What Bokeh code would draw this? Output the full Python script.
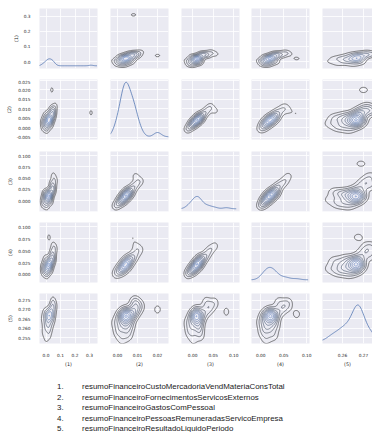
import numpy as np
from bokeh.plotting import figure
from bokeh.layouts import column, row
from bokeh.models import Range1d, FixedTicker, PrintfTickFormatter, Div, LinearAxis, Grid
from bokeh.embed import file_html
from bokeh.resources import INLINE

nan = float("nan")

var_names = [
    "resumoFinanceiroCustoMercadoriaVendMateriaConsTotal",
    "resumoFinanceiroFornecimentosServicosExternos",
    "resumoFinanceiroGastosComPessoal",
    "resumoFinanceiroPessoasRemuneradasServicoEmpresa",
    "resumoFinanceiroResultadoLiquidoPeriodo",
]
axis_labels = ["(1)", "(2)", "(3)", "(4)", "(5)"]

# observations (22 typical firms + 5 atypical ones, NaN = missing)
custo = [-0.001, 0.023, -0.019, 0.014, 0.034, -0.005, 0.018, 0.006, 0.048, -0.025, 0.027,
         0.009, 0.020, 0.041, 0.003, 0.016, 0.031, 0.055, -0.011, 0.038, 0.065, 0.045,
         0.310, 0.040, 0.020, nan, 0.050]
fornecimentos = [0.0022, 0.0055, 0.0000, 0.0046, 0.0016, 0.0067, 0.0034, -0.0011, 0.0052, 0.0029, 0.0048,
                 0.0012, 0.0040, 0.0060, 0.0023, 0.0044, 0.0035, 0.0076, 0.0042, 0.0098, 0.0115, 0.0084,
                 0.0080, 0.0200, 0.0075, nan, 0.0090]
gastos = [0.002, 0.020, -0.009, 0.015, -0.002, 0.017, 0.009, -0.013, 0.019, 0.001, 0.012,
          -0.002, 0.011, 0.021, 0.004, 0.009, 0.008, 0.028, 0.013, 0.038, 0.044, 0.032,
          nan, nan, nan, 0.082, 0.055]
pessoas = [0.012, 0.029, 0.004, 0.020, 0.010, 0.033, 0.016, 0.000, 0.027, 0.014, 0.025,
           0.007, 0.021, 0.030, 0.012, 0.023, 0.018, 0.035, 0.021, 0.046, 0.053, 0.039,
           nan, nan, 0.078, nan, 0.060]
resultado = [0.2540, 0.2560, 0.2578, 0.2592, 0.2603, 0.2612, 0.2620, 0.2630, 0.2640, 0.2648, 0.2656,
             0.2662, 0.2665, 0.2668, 0.2670, 0.2672, 0.2675, 0.2679, 0.2685, 0.2700, 0.2718, 0.2740,
             0.2685, 0.2700, 0.2675, 0.2688, 0.2735]

x_ticks = [[0.0, 0.1, 0.2, 0.3], [0.0, 0.01, 0.02], [0.0, 0.05, 0.10], [0.0, 0.05, 0.10], [0.26, 0.27]]
y_ticks = [[0.0, 0.1, 0.2, 0.3],
           [-0.005, 0.0, 0.005, 0.010, 0.015, 0.020, 0.025],
           [-0.025, 0.0, 0.025, 0.050, 0.075, 0.100],
           [0.0, 0.025, 0.050, 0.075, 0.100],
           [0.255, 0.260, 0.265, 0.270, 0.275]]
x_fmt = ["%.1f", "%.2f", "%.2f", "%.2f", "%.2f"]
y_fmt = ["%.1f", "%.3f", "%.3f", "%.3f", "%.3f"]

x_lims = [(-0.045, 0.355), (-0.0035, 0.0255), (-0.027, 0.114), (-0.02, 0.106), (0.2505, 0.2743)]
y_lims = [(-0.046, 0.352), (-0.0061, 0.0255), (-0.024, 0.109), (-0.017, 0.109), (0.2519, 0.2785)]

data = [np.array(v, dtype=float) for v in (custo, fornecimentos, gastos, pessoas, resultado)]

BG = "#EAEAF2"
FONT = "DejaVu Sans"


def bw_scott(x):
    n = len(x)
    sd = np.std(x, ddof=1)
    iqr = (np.percentile(x, 75) - np.percentile(x, 25)) / 1.349
    return 1.059 * min(sd, iqr) * n ** -0.2


def kde1(x):
    x = x[~np.isnan(x)]
    h = bw_scott(x)
    g = np.linspace(x.min() - 3 * h, x.max() + 3 * h, 100)
    d = np.exp(-0.5 * ((g[:, None] - x[None, :]) / h) ** 2).sum(1) / (len(x) * h * np.sqrt(2 * np.pi))
    return g, d


def kde2(x, y):
    m = ~(np.isnan(x) | np.isnan(y))
    x, y = x[m], y[m]
    hx, hy = bw_scott(x), bw_scott(y)
    gx = np.linspace(x.min() - 3 * hx, x.max() + 3 * hx, 100)
    gy = np.linspace(y.min() - 3 * hy, y.max() + 3 * hy, 100)
    kx = np.exp(-0.5 * ((gx[:, None] - x[None, :]) / hx) ** 2) / (hx * np.sqrt(2 * np.pi))
    ky = np.exp(-0.5 * ((gy[:, None] - y[None, :]) / hy) ** 2) / (hy * np.sqrt(2 * np.pi))
    z = ky @ kx.T / len(x)
    return gx, gy, z


def nice_levels(zmax, nbins=11):
    raw = zmax / nbins
    scale = 10 ** np.floor(np.log10(raw))
    step = scale * 10
    for s in (1, 2, 2.5, 5, 10):
        if s * scale >= raw:
            step = s * scale
            break
    lv = np.arange(step, zmax, step)
    return list(lv[lv < zmax])


def blend(c0, c1, t):
    a = np.array([int(c0[i:i + 2], 16) for i in (1, 3, 5)], dtype=float)
    b = np.array([int(c1[i:i + 2], 16) for i in (1, 3, 5)], dtype=float)
    c = a + (b - a) * t
    return "#%02x%02x%02x" % tuple(int(round(v)) for v in c)


diag = [kde1(v) for v in data]
dmax = max(d.max() for _, d in diag)
diag_range = Range1d(-0.05 * dmax, 1.05 * dmax)

xr = [Range1d(*l) for l in x_lims]
yr = [Range1d(*l) for l in y_lims]

PAGE = 8  # page margin (the template's body has none)
frame_w = [58, 58, 58, 58, 50]
left_gap = [PAGE + 31, 0, 0, 0, 0]
right_gap = [13, 13, 12, 13, 0]
top_gap = [PAGE, 0, 0, 0, 0]
bottom_gap = [11, 12, 11, 11, 16]

rows = []
for i in range(5):
    figs = []
    for j in range(5):
        p = figure(width=left_gap[j] + frame_w[j] + right_gap[j], height=top_gap[i] + 60 + bottom_gap[i],
                   x_range=xr[j], y_range=yr[i],
                   output_backend="svg", toolbar_location=None, tools="",
                   x_axis_location=None, y_axis_location=None,
                   min_border_left=left_gap[j], min_border_right=right_gap[j],
                   min_border_top=top_gap[i], min_border_bottom=bottom_gap[i],
                   background_fill_color=BG, border_fill_color="white", outline_line_color=None)
        p.center = [r for r in p.center if not isinstance(r, Grid)]
        p.add_layout(Grid(dimension=0, ticker=FixedTicker(ticks=x_ticks[j]),
                          grid_line_color="white", grid_line_width=0.8))
        p.add_layout(Grid(dimension=1, ticker=FixedTicker(ticks=y_ticks[i]),
                          grid_line_color="white", grid_line_width=0.8))
        if j == 0:
            ax = LinearAxis(ticker=FixedTicker(ticks=y_ticks[i]),
                            formatter=PrintfTickFormatter(format=y_fmt[i]),
                            axis_label=axis_labels[i])
            p.add_layout(ax, "left")
        if i == 4:
            ax = LinearAxis(ticker=FixedTicker(ticks=x_ticks[j]),
                            formatter=PrintfTickFormatter(format=x_fmt[j]),
                            axis_label=axis_labels[j])
            p.add_layout(ax, "below")
        for ax in p.axis:
            ax.axis_line_color = None
            ax.major_tick_line_color = None
            ax.minor_tick_line_color = None
            ax.major_label_text_font = FONT
            ax.major_label_text_font_size = "4.3px"
            ax.major_label_text_color = "#262626"
            ax.major_label_standoff = 3
            ax.axis_label_text_font = FONT
            ax.axis_label_text_font_size = "4.8px"
            ax.axis_label_text_font_style = "normal"
            ax.axis_label_text_color = "#262626"
            ax.axis_label_standoff = 2

        if i == j:
            p.extra_y_ranges = {"diag": diag_range}
            g, d = diag[i]
            p.line(g, d, y_range_name="diag", line_color="#4C72B0", line_width=1.0, line_alpha=0.75)
        else:
            gx, gy, z = kde2(data[j], data[i])
            lv = nice_levels(z.max())
            n = len(lv)
            cols = [blend("#333333", "#6688c4", k / max(n - 1, 1)) for k in range(n)]
            p.contour(gx, gy, z, lv, line_color=cols, line_width=0.75, line_alpha=0.85)
        figs.append(p)
    rows.append(row(*figs, spacing=0))

lines = "".join(
    '<div style="white-space:nowrap;height:10.5px;line-height:10.5px;margin:0;">'
    '<span style="display:inline-block;width:25px;margin-left:57px;">%d.</span>%s</div>' % (k + 1, nm)
    for k, nm in enumerate(var_names))
legend = Div(text='<div style="font-family:\'Liberation Sans\';font-size:7.9px;color:#1a1a1a;'
             'padding-top:13px;margin:0;">' + lines + '</div>',
             width=372, height=63, margin=0)

layout = column(*rows, legend, spacing=0)
open("out.html", "w").write(file_html(layout, INLINE))
